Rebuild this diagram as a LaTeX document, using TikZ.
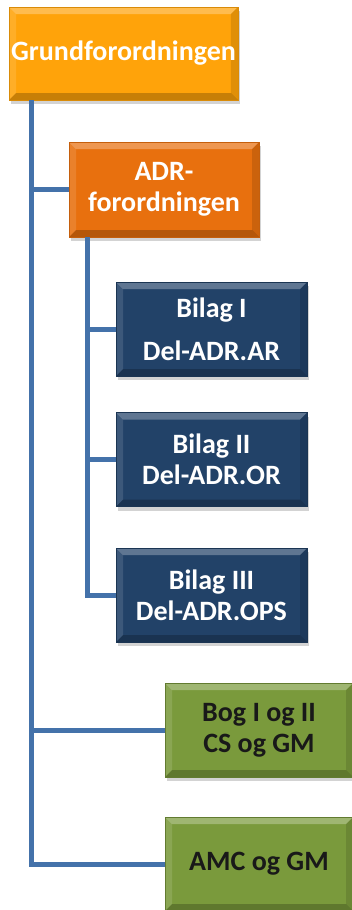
\documentclass[tikz,border=0pt]{standalone}
\usepackage{fontspec}
\setmainfont{Carlito}
\usetikzlibrary{shadows}

\definecolor{grundOrange}{RGB}{255,163,10}
\definecolor{adrOrange}{RGB}{232,112,14}
\definecolor{bilagNavy}{RGB}{34,66,104}
\definecolor{bogGreen}{RGB}{122,154,60}
\definecolor{treeBlue}{RGB}{68,114,170}

\def\bevelEdges{%
  \coordinate (nw) at (path picture bounding box.north west);
  \coordinate (ne) at (path picture bounding box.north east);
  \coordinate (se) at (path picture bounding box.south east);
  \coordinate (sw) at (path picture bounding box.south west);
  \fill[white, opacity=.28] (nw) -- (ne) -- ([shift={(-7pt,-7pt)}]ne) -- ([shift={(7pt,-7pt)}]nw) -- cycle;
  \fill[white, opacity=.12] (nw) -- (sw) -- ([shift={(7pt,7pt)}]sw) -- ([shift={(7pt,-7pt)}]nw) -- cycle;
  \fill[black, opacity=.22] (sw) -- (se) -- ([shift={(-7pt,7pt)}]se) -- ([shift={(7pt,7pt)}]sw) -- cycle;
  \fill[black, opacity=.12] (ne) -- (se) -- ([shift={(-7pt,7pt)}]se) -- ([shift={(-7pt,-7pt)}]ne) -- cycle;}

\tikzset{
  orgbox/.style={rectangle, align=center, inner sep=2pt,
    font=\bfseries\fontsize{28}{31}\selectfont,
    path picture={\bevelEdges},
    drop shadow={shadow xshift=2pt, shadow yshift=-4pt, opacity=.35}},
  grundbox/.style={orgbox, fill=grundOrange, draw=grundOrange!85!black, text=white,
    minimum width=221pt, minimum height=93pt},
  adrbox/.style={orgbox, fill=adrOrange, draw=adrOrange!85!black, text=white,
    minimum width=190pt, minimum height=95pt},
  bilagbox/.style={orgbox, fill=bilagNavy, draw=bilagNavy!80!black, text=white,
    minimum width=191pt, minimum height=94pt},
  bogbox/.style={orgbox, fill=bogGreen, draw=bogGreen!80!black, text=black!90,
    minimum width=188pt, minimum height=94pt},
  treeline/.style={draw=treeBlue, line width=5pt}
}

\begin{document}
\begin{tikzpicture}[x=1pt, y=-1pt]
		\useasboundingbox (0,0) rectangle (352,910);
		
		% boxes
		\node[grundbox] (grund) at (123.5,53.5) {Grundforordningen};
		\node[adrbox] (adr) at (164,189.5) {ADR-\\forordningen};
		\node[bilagbox] (bilagI) at (211.5,329) {Bilag I\\[12pt]Del-ADR.AR};
		\node[bilagbox] (bilagII) at (211.5,459.5) {Bilag II\\Del-ADR.OR};
		\node[bilagbox] (bilagIII) at (211.5,595) {Bilag III\\Del-ADR.OPS};
		\node[bogbox] (bog) at (259,730) {Bog I og II\\CS og GM};
		\node[bogbox] (amc) at (259,864) {AMC og GM};
		
		% trunk
		\coordinate (trunk) at ([xshift=22.5pt]grund.south west);
		\draw[treeline] (trunk) |- (adr.west);
		\draw[treeline] (trunk) |- (bog.west);
		\draw[treeline] (trunk) |- (amc.west);
		
		% branch under ADR
		\coordinate (branch) at ([xshift=19pt]adr.south west);
		\draw[treeline] (branch) |- (bilagI.west);
		\draw[treeline] (branch) |- (bilagII.west);
		\draw[treeline] (branch) |- (bilagIII.west);
\end{tikzpicture}
\end{document}
